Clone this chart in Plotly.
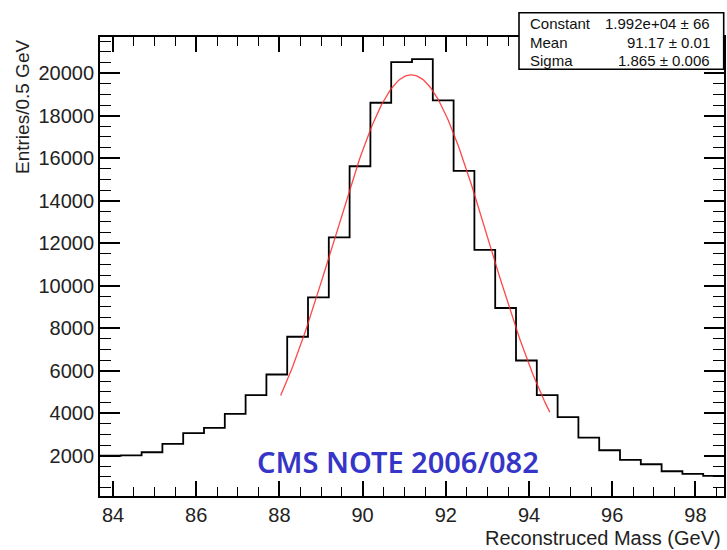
import numpy as np
import plotly.graph_objects as go

# ---- data ----
bin_low = 83.6876
bin_width = 0.5
counts = [1995, 2010, 2160, 2551, 3056, 3305, 3965, 4846, 5817, 7593,
          9445, 12272, 15617, 18605, 20518, 20660, 18714, 15401, 11679, 8946,
          6476, 4846, 3809, 2848, 2254, 1797, 1595, 1265, 1138, 1043]
fit_constant = 19920.0
fit_mean = 91.17
fit_sigma = 1.865
fit_range = [88.03, 94.5]
x_tickvals = [84, 86, 88, 90, 92, 94, 96, 98]
y_tickvals = [2000, 4000, 6000, 8000, 10000, 12000, 14000, 16000, 18000, 20000]
stats_rows = [("Constant", "1.992e+04 ± 66"), ("Mean", "91.17 ± 0.01"), ("Sigma", "1.865 ± 0.006")]

edges = [bin_low + i * bin_width for i in range(len(counts) + 1)]
xr = [edges[0], edges[-1]]
yr = [100, 21700]

fx = np.linspace(fit_range[0], fit_range[1], 200)
fy = fit_constant * np.exp(-0.5 * ((fx - fit_mean) / fit_sigma) ** 2)

FONT = "Liberation Sans, Arial, sans-serif"

fig = go.Figure()
fig.add_trace(go.Scatter(x=edges, y=counts + [counts[-1]], mode="lines",
                         line=dict(shape="hv", color="black", width=1.8),
                         hoverinfo="skip", showlegend=False))
fig.add_trace(go.Scatter(x=fx, y=fy, mode="lines",
                         line=dict(color="rgba(255,40,40,0.85)", width=1.3),
                         showlegend=False))
# dummy for mirrored axes
fig.add_trace(go.Scatter(x=[xr[0]], y=[yr[0]], xaxis="x2", yaxis="y2",
                         mode="markers", marker=dict(opacity=0), showlegend=False))

common_x = dict(range=xr, ticks="inside", ticklen=15, tickwidth=1.5, tickcolor="black",
                showgrid=False, zeroline=False, showline=True, linecolor="black", linewidth=1.8,
                tickvals=x_tickvals,
                minor=dict(ticks="inside", ticklen=9, tickwidth=1.3, tickcolor="black",
                           dtick=0.5, tick0=84, showgrid=False))
common_y = dict(range=yr, ticks="inside", ticklen=20, tickwidth=1.5, tickcolor="black",
                showgrid=False, zeroline=False, showline=True, linecolor="black", linewidth=1.8,
                tickvals=y_tickvals,
                minor=dict(ticks="inside", ticklen=11, tickwidth=1.3, tickcolor="black",
                           dtick=500, tick0=0, showgrid=False))

fig.update_layout(
    width=727, height=550,
    margin=dict(l=100, r=3, t=37, b=54),
    plot_bgcolor="white", paper_bgcolor="white",
    font=dict(family=FONT, color="#222"),
    xaxis=dict(**common_x, tickfont=dict(size=20, family=FONT, color="#222"),
               tickformat="d"),
    yaxis=dict(**common_y, tickfont=dict(size=20, family=FONT, color="#222"),
               tickformat="d"),
    xaxis2=dict(**common_x, overlaying="x", side="top", anchor="y2", showticklabels=False),
    yaxis2=dict(**common_y, overlaying="y", side="right", anchor="x2", showticklabels=False),
    showlegend=False,
)

pw = 727 - 100 - 3
ph = 550 - 37 - 54
def px(xp):
    return (xp - 100) / pw
def py(yp):
    return (550 - 54 - yp) / ph

# stats box
fig.add_shape(type="rect", xref="paper", yref="paper",
              x0=px(519), x1=px(723.7), y0=py(69.3), y1=py(12.7),
              line=dict(color="black", width=1.6), fillcolor="white", layer="above")
for i, (k, v) in enumerate(stats_rows):
    yc = py(24 + i * 18.1)
    fig.add_annotation(x=px(528), y=yc, xref="paper", yref="paper", text=k,
                       showarrow=False, xanchor="left", yanchor="middle",
                       font=dict(size=15, family=FONT, color="#111"))
    fig.add_annotation(x=px(712), y=yc, xref="paper", yref="paper", text=v,
                       showarrow=False, xanchor="right", yanchor="middle",
                       font=dict(size=15, family=FONT, color="#111"))

# axis titles
fig.add_annotation(x=px(723), y=py(538), xref="paper", yref="paper",
                   text="Reconstruced Mass (GeV)", showarrow=False,
                   xanchor="right", yanchor="middle",
                   font=dict(size=20, family=FONT, color="#222"))
fig.add_annotation(x=px(22), y=py(38), xref="paper", yref="paper",
                   text="Entries/0.5 GeV", showarrow=False, textangle=-90,
                   xanchor="center", yanchor="top",
                   font=dict(size=19, family=FONT, color="#222"))

# CMS note label
fig.add_annotation(x=90.84, y=1717, xref="x", yref="y", text="CMS NOTE 2006/082",
                   showarrow=False, xanchor="center", yanchor="middle",
                   font=dict(size=29, family="Noto Sans, sans-serif", color="#3535c8", weight=600))

fig.write_html("out.html")
